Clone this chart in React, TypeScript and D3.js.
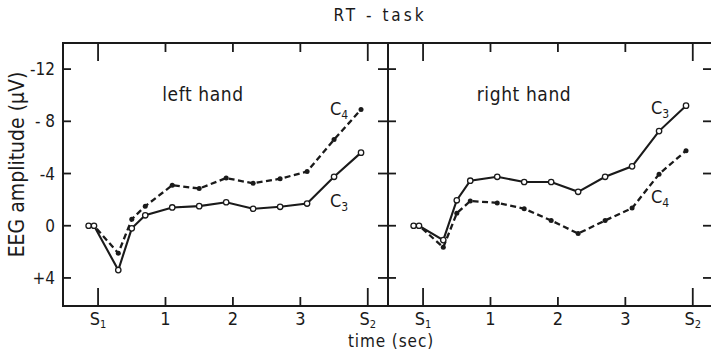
import React from "react";
import * as d3 from "d3";

// Sampling times (s) relative to S1; S2 follows 4 s later
const times = [-0.14, -0.06, 0.3, 0.5, 0.7, 1.1, 1.5, 1.9, 2.3, 2.7, 3.1, 3.5, 3.9];

// EEG amplitude (µV), negative plotted upward
const leftC3 = [0, 0, 3.4, 0.2, -0.8, -1.4, -1.5, -1.8, -1.3, -1.45, -1.7, -3.75, -5.6];
const leftC4 = [0, 0, 2.1, -0.5, -1.5, -3.1, -2.85, -3.65, -3.25, -3.6, -4.15, -6.6, -8.9];
const rightC3 = [0, 0, 1.1, -1.95, -3.45, -3.75, -3.35, -3.35, -2.6, -3.75, -4.55, -7.25, -9.2];
const rightC4 = [0, 0, 1.65, -0.95, -1.9, -1.75, -1.3, -0.4, 0.6, -0.4, -1.35, -3.95, -5.75];

const xTickValues = [0, 1, 2, 3, 4];
const xTickLabels = ["S", "1", "2", "3", "S"];
const xTickSubs = ["1", "", "", "", "2"];
const yTickValues = [-12, -8, -4, 0, 4];
const yTickLabels = ["-12", "- 8", "-4", "0", "+4"];

const FONT = "'DejaVu Sans Condensed', 'Liberation Sans Narrow', 'DejaVu Sans', sans-serif";
const INK = "#1a1a1a";

const top = 43;
const bottom = 306;
const y = d3.scaleLinear().domain([-14, 6.15]).range([top, bottom]);

type Panel = {
  x0: number;
  x1: number;
  title: string;
  titleX: number;
  c3: number[];
  c4: number[];
  c3Label: [number, number];
  c4Label: [number, number];
};

const panels: Panel[] = [
  { x0: 63, x1: 388, title: "left hand", titleX: 203, c3: leftC3, c4: leftC4, c3Label: [330, 207], c4Label: [330, 115] },
  { x0: 388, x1: 713, title: "right hand", titleX: 524, c3: rightC3, c4: rightC4, c3Label: [651, 114], c4Label: [651, 203] },
];

function Electrode({ x, y: yy, sub }: { x: number; y: number; sub: string }) {
  return (
    <text x={x} y={yy} fontFamily={FONT} fontSize={18} fill={INK}>
      C
      <tspan fontSize={12} dy={4}>{sub}</tspan>
    </text>
  );
}

function PanelView({ p }: { p: Panel }) {
  const x = d3.scaleLinear().domain([-0.52, 4.3]).range([p.x0, p.x1]);
  const line = d3
    .line<number>()
    .x((_, i) => x(times[i]))
    .y((v) => y(v));
  const longTick = 18;
  const shortTick = 9;
  return (
    <g>
      {/* frame */}
      <rect x={p.x0} y={top} width={p.x1 - p.x0} height={bottom - top} fill="none" stroke={INK} strokeWidth={2} />
      {/* x ticks, top and bottom, pointing inward */}
      {xTickValues.map((t, i) => {
        const len = xTickSubs[i] ? longTick : shortTick;
        return (
          <g key={"xt" + i}>
            <line x1={x(t)} x2={x(t)} y1={top} y2={top + len} stroke={INK} strokeWidth={1.8} />
            <line x1={x(t)} x2={x(t)} y1={bottom} y2={bottom - len} stroke={INK} strokeWidth={1.8} />
            <text x={x(t)} y={325} textAnchor="middle" fontFamily={FONT} fontSize={18} fill={INK}>
              {xTickLabels[i]}
              {xTickSubs[i] ? (
                <tspan fontSize={11} dy={3}>{xTickSubs[i]}</tspan>
              ) : null}
            </text>
          </g>
        );
      })}
      {/* y ticks on both sides of the panel, pointing inward */}
      {yTickValues.map((v, i) => (
        <g key={"yt" + i}>
          <line x1={p.x0} x2={p.x0 + 8} y1={y(v)} y2={y(v)} stroke={INK} strokeWidth={1.8} />
          <line x1={p.x1} x2={p.x1 - 10} y1={y(v)} y2={y(v)} stroke={INK} strokeWidth={1.8} />
        </g>
      ))}
      <text x={p.titleX} y={101} textAnchor="middle" fontFamily={FONT} fontSize={19} fill={INK} letterSpacing={0.6}>
        {p.title}
      </text>
      {/* C4: dashed line with filled dots */}
      <path d={line(p.c4) ?? ""} fill="none" stroke={INK} strokeWidth={2.3} strokeDasharray="6,3.5" />
      {p.c4.map((v, i) => (
        <circle key={"c4" + i} cx={x(times[i])} cy={y(v)} r={2.5} fill={INK} />
      ))}
      {/* C3: solid line with open circles */}
      <path d={line(p.c3) ?? ""} fill="none" stroke={INK} strokeWidth={2.1} />
      {p.c3.map((v, i) => (
        <circle key={"c3" + i} cx={x(times[i])} cy={y(v)} r={2.7} fill="#fff" stroke={INK} strokeWidth={1.3} />
      ))}
      <Electrode x={p.c3Label[0]} y={p.c3Label[1]} sub="3" />
      <Electrode x={p.c4Label[0]} y={p.c4Label[1]} sub="4" />
    </g>
  );
}

export default function App() {
  return (
    <svg
      width={711}
      height={353}
      viewBox="0 0 711 353"
      style={{ position: "absolute", left: 0, top: 0, background: "#fff" }}
    >
      <rect x={0} y={0} width={711} height={353} fill="#fff" />
      <text x={380} y={21} textAnchor="middle" fontFamily={FONT} fontSize={17} fill={INK} letterSpacing={3}>
        RT - task
      </text>
      {panels.map((p, i) => (
        <PanelView key={i} p={p} />
      ))}
      {yTickValues.map((v, i) => (
        <text key={"yl" + i} x={55} y={y(v) + 6} textAnchor="end" fontFamily={FONT} fontSize={17} fill={INK}>
          {yTickLabels[i]}
        </text>
      ))}
      <text
        transform={`translate(24,${(top + bottom) / 2 - 10}) rotate(-90)`}
        textAnchor="middle"
        fontFamily={FONT}
        fontSize={21}
        fill={INK}
      >
        EEG amplitude (µV)
      </text>
      <text x={391} y={347} textAnchor="middle" fontFamily={FONT} fontSize={17} fill={INK} letterSpacing={0.9}>
        time (sec)
      </text>
    </svg>
  );
}
